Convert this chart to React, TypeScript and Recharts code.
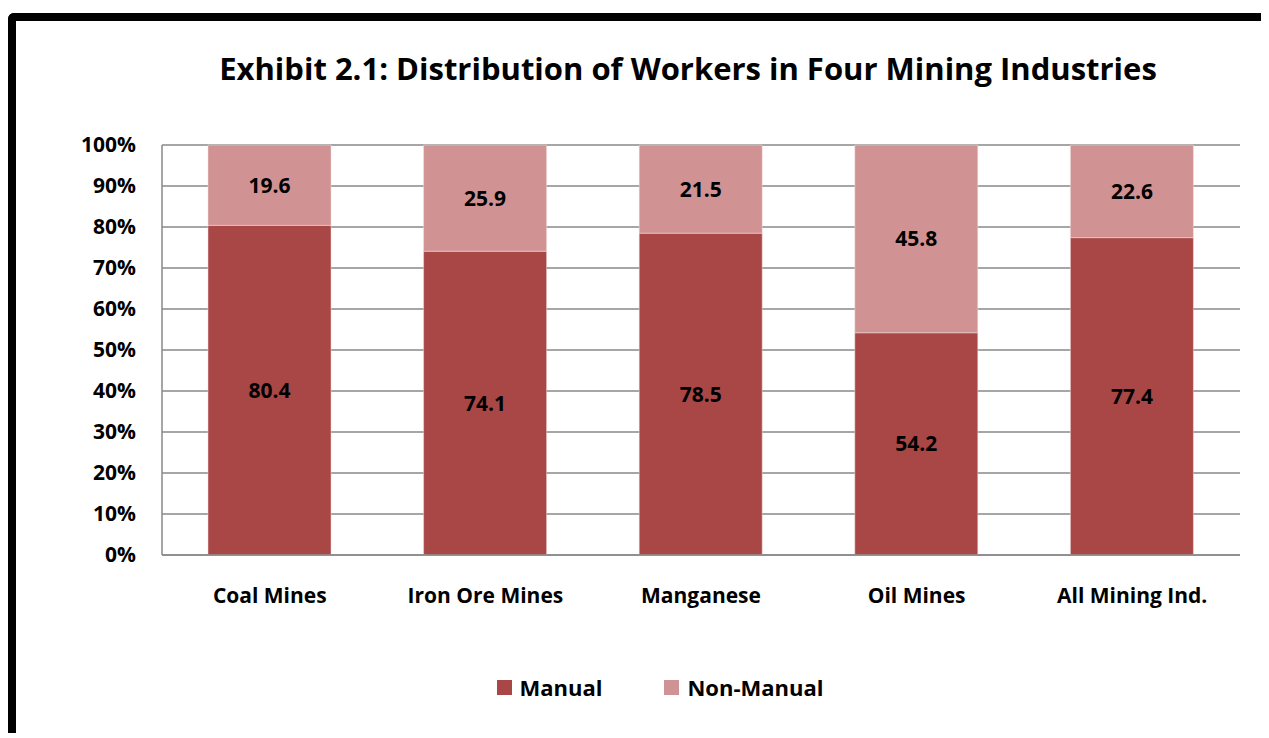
import { BarChart, Bar, XAxis, YAxis, CartesianGrid, Legend, LabelList } from "recharts";

const categories = ["Coal Mines", "Iron Ore Mines", "Manganese", "Oil Mines", "All Mining Ind."];
const manual = [80.4, 74.1, 78.5, 54.2, 77.4];
const nonManual = [19.6, 25.9, 21.5, 45.8, 22.6];
const yTicks = [0, 10, 20, 30, 40, 50, 60, 70, 80, 90, 100];

const data = categories.map((name, i) => ({ name, manual: manual[i], nonManual: nonManual[i] }));

const FONT = "'Open Sans', sans-serif";
const MANUAL_COLOR = "#A94646";
const NON_MANUAL_COLOR = "#D09292";

function renderLegend(props: any) {
  const { payload } = props;
  return (
    <div style={{ display: "flex", justifyContent: "center", gap: 62, fontFamily: FONT, fontWeight: 700, fontSize: 22, paddingLeft: 64, height: 30, alignItems: "center" }}>
      {payload.map((p: any) => (
        <div key={p.value} style={{ display: "flex", alignItems: "center", gap: 8 }}>
          <span style={{ width: 15, height: 15, background: p.color, display: "inline-block" }} />
          <span>{p.value}</span>
        </div>
      ))}
    </div>
  );
}

export default function App() {
  return (
    <div
      style={{
        marginTop: 5,
        width: 1253,
        height: 712,
        borderLeft: "8px solid #000",
        borderTop: "8px solid #000",
        borderTopLeftRadius: 6,
        position: "relative",
        background: "#fff",
      }}
    >
      <div
        style={{
          position: "absolute",
          top: 26,
          left: 0,
          width: 1344,
          textAlign: "center",
          fontFamily: FONT,
          fontWeight: 700,
          fontSize: 31,
          color: "#000",
        }}
      >
        Exhibit 2.1: Distribution of Workers in Four Mining Industries
      </div>
      <BarChart
        width={1253}
        height={712}
        data={data}
        barSize={123}
        margin={{ top: 124, right: 29, left: 0, bottom: 31 }}
      >
        <CartesianGrid vertical={false} stroke="#888" strokeWidth={1.5} />
        <XAxis
          dataKey="name"
          tickLine={false}
          axisLine={{ stroke: "#888", strokeWidth: 1.5 }}
          height={117}
          tickSize={0}
          tickMargin={33}
          tick={{ fill: "#000", fontFamily: FONT, fontWeight: 700, fontSize: 21 }}
        />
        <YAxis
          domain={[0, 100]}
          ticks={yTicks}
          interval={0}
          width={146}
          tickLine={false}
          axisLine={{ stroke: "#888", strokeWidth: 1.5 }}
          tickSize={0}
          tickMargin={26}
          tickFormatter={(v: number) => `${v}%`}
          tick={{ fill: "#000", fontFamily: FONT, fontWeight: 700, fontSize: 21 }}
        />
        <Legend verticalAlign="bottom" content={renderLegend} />
        <Bar dataKey="manual" name="Manual" stackId="a" fill={MANUAL_COLOR} stroke="#f2dede" strokeWidth={0.5} isAnimationActive={false}>
          <LabelList dataKey="manual" position="center" fill="#000" style={{ fontFamily: FONT, fontWeight: 700, fontSize: 21 }} />
        </Bar>
        <Bar dataKey="nonManual" name="Non-Manual" stackId="a" fill={NON_MANUAL_COLOR} stroke="#f2dede" strokeWidth={0.5} isAnimationActive={false}>
          <LabelList dataKey="nonManual" position="center" fill="#000" style={{ fontFamily: FONT, fontWeight: 700, fontSize: 21 }} />
        </Bar>
      </BarChart>
    </div>
  );
}
